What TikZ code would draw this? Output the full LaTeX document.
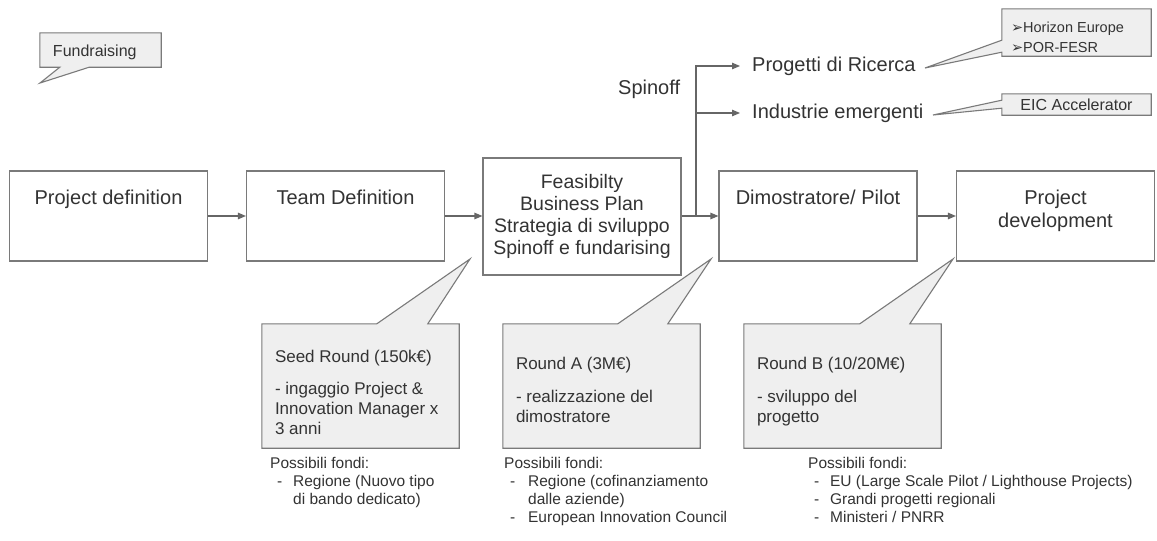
\documentclass[tikz,border=0pt]{standalone}
\usepackage{fontspec}
\setmainfont{Liberation Sans}
\newfontfamily\dejavu{DejaVu Sans}
\usetikzlibrary{arrows.meta,backgrounds}
\definecolor{txt}{HTML}{333333}
\definecolor{edge}{HTML}{7A7A7A}
\definecolor{bub}{HTML}{EFEFEF}
\definecolor{arr}{HTML}{666666}
% top-aligned centred text block: #1 strut height, #2 text
\newcommand{\stg}[2]{\parbox[c][90pt][t]{198pt}{\centering\rule{0pt}{#1}#2}}
% top-aligned left text block: #1 width, #2 height, #3 left pad, #4 strut, #5 text
\newcommand{\bxl}[5]{\parbox[c][#2][t]{#1}{\raggedright\leftskip=#3\relax\rule{0pt}{#4}#5}}
\newcommand{\bul}{{\dejavu\fontsize{14.5}{20}\selectfont ➢}}
\begin{document}
\begin{tikzpicture}[x=1pt,y=-1pt,
  stage/.style={draw=edge, line width=1.1pt, inner sep=0pt, text=txt, font=\fontsize{20}{23}\selectfont},
  flow/.style={draw=arr, line width=1.1pt, -{Triangle[length=8pt,width=6.5pt]}},
  bubble/.style={draw=edge, fill=bub, line width=1.1pt, line join=miter},
  bubtext/.style={inner sep=0pt, text=txt, font=\fontsize{17}{20}\selectfont},
  fondi/.style={inner sep=0pt, anchor=north west, align=left, text=txt, font=\fontsize{15.5}{18}\selectfont},
  plain/.style={inner sep=0pt, text=txt, font=\fontsize{20}{23}\selectfont}
]
\useasboundingbox (0,0) rectangle (1157,541);

% main stages
\node[stage] (pdef) at (108.5,216) {\stg{33pt}{Project definition}};
\node[stage] (team) at (345.5,216) {\stg{33pt}{Team Definition}};
\node[stage, minimum width=198pt, minimum height=117pt, align=center,
      font=\fontsize{19.5}{22}\selectfont] (feas) at (582,216.5)
      {Feasibilty\\Business Plan\\Strategia di sviluppo\\Spinoff e fundarising};
\node[stage] (dim) at (818,216) {\stg{33pt}{Dimostratore/ Pilot}};
\node[stage] (pdev) at (1055.5,216) {\stg{33pt}{Project\\development}};

\draw[flow] (pdef.east) -- (team.west);
\draw[flow] (team.east) -- (team.east -| feas.west);
\draw[flow] (dim.west -| feas.east) -- (dim.west);
\draw[flow] (dim.east) -- (pdev.west);

% spinoff branch
\coordinate (split) at (696,216);
\node[plain, anchor=west] (spin) at (618,89) {Spinoff};
\node[plain, anchor=west] (prog) at (752,66) {Progetti di Ricerca};
\node[plain, anchor=west] (ind) at (752,113) {Industrie emergenti};
\draw[flow] (split) |- ([xshift=-12pt]prog.west);
\draw[flow] (split |- ind.west) -- ([xshift=-12pt]ind.west);

% callout texts
\node[inner sep=0pt, text=txt, font=\fontsize{16}{19}\selectfont] (fund) at (100.5,50)
  {\bxl{121pt}{34pt}{13pt}{23pt}{Fundraising}};
\node[inner sep=0pt, text=txt, font=\fontsize{14.5}{20}\selectfont] (hor) at (1076.5,32.5)
  {\bxl{149pt}{47pt}{9pt}{23pt}{\bul Horizon Europe\\\bul POR-FESR}};
\node[inner sep=0pt, text=txt, font=\fontsize{16}{19}\selectfont,
      minimum width=149pt, minimum height=21pt] (eic) at (1076.5,104.5) {EIC Accelerator};
\node[bubtext] (seed) at (360.5,386)
  {\bxl{197pt}{124pt}{13pt}{38pt}{Seed Round (150k€)\\[12pt]- ingaggio Project \&\\Innovation Manager x\\3 anni}};
\node[bubtext] (rA) at (601.5,386)
  {\bxl{197pt}{124pt}{13pt}{45pt}{Round A (3M€)\\[13pt]- realizzazione del\\dimostratore}};
\node[bubtext] (rB) at (842.5,386)
  {\bxl{197pt}{124pt}{13pt}{45pt}{Round B (10/20M€)\\[13pt]- sviluppo del\\progetto}};

% callout tips
\coordinate (fundTip) at (40,83);
\coordinate (horTip) at (925,68);
\coordinate (eicTip) at (933,115);
\coordinate (seedTip) at (470,259);
\coordinate (aTip) at (711,259);
\coordinate (bTip) at (953,259);

\begin{scope}[on background layer]
  \fill[white] (0,0) rectangle (1157,541);
  \path[bubble] (fund.north west) -- (fund.north east) -- (fund.south east)
     -- ([xshift=-72pt]fund.south east) -- (fundTip) -- ([xshift=20pt]fund.south west)
     -- (fund.south west) -- cycle;
  \path[bubble] (hor.north west) -- (hor.north east) -- (hor.south east) -- (hor.south west)
     -- ([yshift=4pt]hor.south west) -- (horTip) -- ([yshift=16pt]hor.south west) -- cycle;
  \path[bubble] (eic.north west) -- (eic.north east) -- (eic.south east) -- (eic.south west)
     -- ([yshift=7pt]eic.south west) -- (eicTip) -- ([yshift=15pt]eic.south west) -- cycle;
  \path[bubble] (seed.north west) -- ([xshift=115pt]seed.north west) -- (seedTip)
     -- ([xshift=166pt]seed.north west) -- (seed.north east) -- (seed.south east)
     -- (seed.south west) -- cycle;
  \path[bubble] (rA.north west) -- ([xshift=115pt]rA.north west) -- (aTip)
     -- ([xshift=165pt]rA.north west) -- (rA.north east) -- (rA.south east)
     -- (rA.south west) -- cycle;
  \path[bubble] (rB.north west) -- ([xshift=116pt]rB.north west) -- (bTip)
     -- ([xshift=166pt]rB.north west) -- (rB.north east) -- (rB.south east)
     -- (rB.south west) -- cycle;
\end{scope}

% possibili fondi
\node[fondi] (fseed) at (270,457)
  {Possibili fondi:\\\hspace*{7pt}-\hspace{10.8pt}Regione (Nuovo tipo\\\hspace*{23pt}di bando dedicato)};
\node[fondi] (fA) at (504,457)
  {Possibili fondi:\\\hspace*{6pt}-\hspace{12.8pt}Regione (cofinanziamento\\\hspace*{24pt}dalle aziende)\\\hspace*{6pt}-\hspace{12.8pt}European Innovation Council};
\node[fondi] (fB) at (808,457)
  {Possibili fondi:\\\hspace*{6pt}-\hspace{10.8pt}EU (Large Scale Pilot / Lighthouse Projects)\\\hspace*{6pt}-\hspace{10.8pt}Grandi progetti regionali\\\hspace*{6pt}-\hspace{10.8pt}Ministeri / PNRR};
\end{tikzpicture}
\end{document}
